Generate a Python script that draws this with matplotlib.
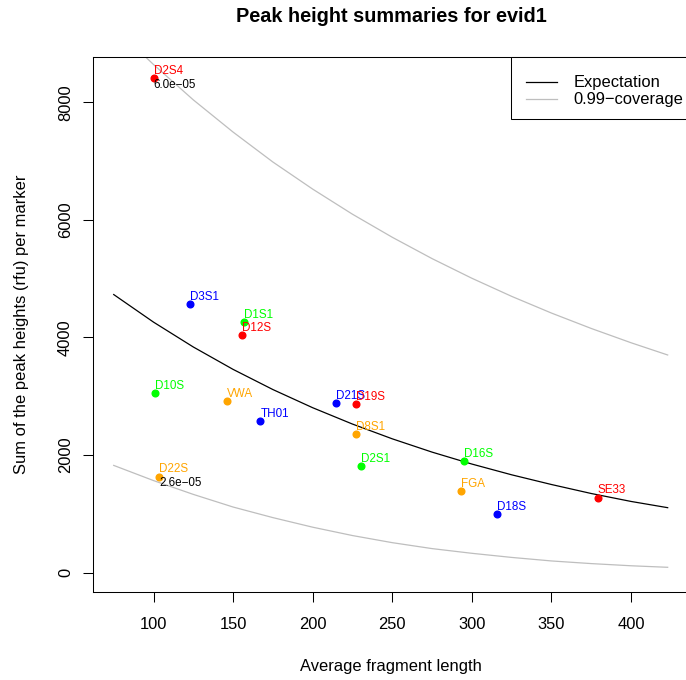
import numpy as np
from matplotlib import pyplot as plt
from matplotlib.patches import Rectangle
from matplotlib.lines import Line2D

plt.rcParams['font.family'] = ['Liberation Sans', 'DejaVu Sans']

# markers: average fragment length, summed peak height, dye colour
MARKERS = ['D2S4', 'D3S1', 'D1S1', 'D12S', 'D10S', 'VWA', 'TH01', 'D21S',
           'D19S', 'D8S1', 'D2S1', 'D22S', 'D16S', 'FGA', 'D18S', 'SE33']
FRAG_LEN = [100.1, 122.7, 156.8, 155.6, 101.1, 146.2, 167.1, 214.8,
            227.4, 227.4, 230.5, 103.6, 295.0, 293.3, 315.6, 379.0]
PEAK_SUM = [8406, 4568, 4262, 4041, 3054, 2918, 2578, 2884,
            2867, 2357, 1813, 1631, 1898, 1388, 997, 1274]
DYE = ['red', 'blue', '#00FF00', 'red', '#00FF00', 'orange', 'blue', 'blue',
       'red', 'orange', '#00FF00', 'orange', '#00FF00', 'orange', 'blue', 'red']

# p-values printed for markers outside the coverage band
PVAL_MARKERS = ['D2S4', 'D22S']
PVAL_TEXT = ['6.0e\u221205', '2.6e\u221205']

# expectation and 0.99 coverage curves
CURVE_X = [75, 100, 125, 150, 175, 200, 225, 250, 275, 300, 325, 350, 375, 400, 423]
EXPECT = [4729, 4260, 3837, 3456, 3113, 2804, 2526, 2275, 2049, 1846, 1663,
          1498, 1345, 1210, 1104]
UPPER = [9285, 8641, 8040, 7492, 6983, 6522, 6095, 5703, 5340, 5006, 4698,
         4414, 4152, 3909, 3701]
LOWER = [1823, 1565, 1330, 1115, 935, 772, 630, 509, 408, 328, 258,
         198, 153, 116, 90]

LEGEND_LABELS = ['Expectation', '0.99\u2212coverage']
LEGEND_COLORS = ['black', '#BEBEBE']

XTICKS = [100, 150, 200, 250, 300, 350, 400]
YTICKS = [0, 2000, 4000, 6000, 8000]

W, H = 686, 680
BASE = 11.9


def fx(px):
    return px / W


def fy(py):
    return 1 - py / H


fig = plt.figure(figsize=(W / 100, H / 100), dpi=100)
ax = fig.add_axes([fx(92.7), fy(591.7), 597.1 / W, 534.4 / H])

ax.plot(CURVE_X, EXPECT, color=LEGEND_COLORS[0], lw=0.9)
ax.plot(CURVE_X, UPPER, color=LEGEND_COLORS[1], lw=0.9)
ax.plot(CURVE_X, LOWER, color=LEGEND_COLORS[1], lw=0.9)

for name, x, y, c in zip(MARKERS, FRAG_LEN, PEAK_SUM, DYE):
    ax.plot(x, y, 'o', color=c, markersize=4.8, zorder=3)
    ax.annotate(name, (x, y), xytext=(0, 3.1), textcoords='offset points',
                ha='left', va='baseline', color=c, fontsize=BASE * 0.7)

for name, txt in zip(PVAL_MARKERS, PVAL_TEXT):
    i = MARKERS.index(name)
    ax.annotate(txt, (FRAG_LEN[i], PEAK_SUM[i]), xytext=(0, -7.0),
                textcoords='offset points', ha='left', va='baseline',
                color='black', fontsize=BASE * 0.7)

ax.set_xlim(61.8, 436.9)
ax.set_ylim(-325, 8764)
ax.set_xticks(XTICKS)
ax.set_yticks(YTICKS)
ax.set_xticklabels([str(t) for t in XTICKS])
ax.set_yticklabels([str(t) for t in YTICKS], rotation=90, va='center')
ax.tick_params(axis='both', direction='out', length=7.2, width=0.75,
               labelsize=BASE)
ax.tick_params(axis='x', pad=11.3)
ax.tick_params(axis='y', pad=7.0)
for s in ax.spines.values():
    s.set_linewidth(0.75)

# legend box in the top right corner, R style
fig.patches.append(Rectangle((fx(510.7), fy(119)), (689.8 - 510.7) / W,
                             (119 - 57.3) / H, transform=fig.transFigure,
                             facecolor='white', edgecolor='black', lw=0.75,
                             zorder=5))
for k, (lab, col) in enumerate(zip(LEGEND_LABELS, LEGEND_COLORS)):
    yy = fy(82.3 + 17 * k)
    fig.lines.append(Line2D([fx(526), fx(557.3)], [yy, yy], color=col, lw=0.9,
                            transform=fig.transFigure, zorder=6))
    fig.text(fx(573.3), yy, lab, ha='left', va='center', fontsize=BASE,
             zorder=6)

fig.text(fx(391), fy(22.3), 'Peak height summaries for evid1',
         ha='center', va='baseline', fontsize=BASE * 1.2, fontweight='bold')
fig.text(fx(391), fy(670.7), 'Average fragment length',
         ha='center', va='baseline', fontsize=BASE)
fig.text(fx(26), fy(324.5), 'Sum of the peak heights (rfu) per marker',
         ha='center', va='baseline', rotation=90, rotation_mode='anchor',
         fontsize=BASE)

fig.savefig('out.png', dpi=100)
